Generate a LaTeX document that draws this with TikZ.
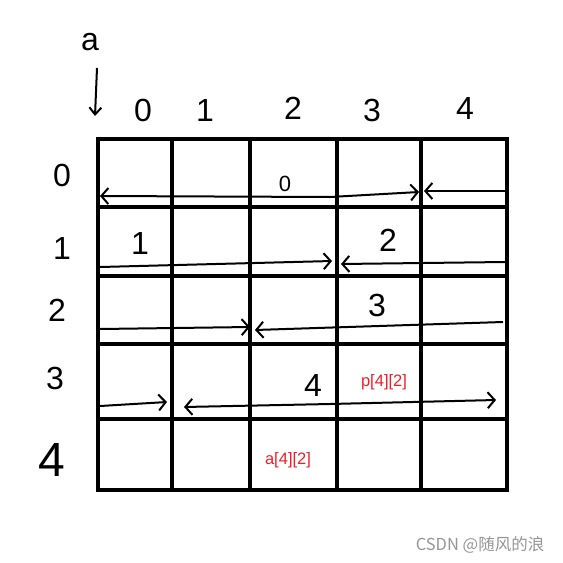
\documentclass[tikz,border=0pt]{standalone}
\usepackage{fontspec}
\setmainfont{Liberation Sans}
\newfontfamily\cjk{Noto Sans CJK SC}
\usetikzlibrary{arrows.meta}
\begin{document}
\begin{tikzpicture}[x=1pt,y=-1pt,
  gridline/.style={line width=4pt},
  hand/.style={line width=2pt,-{Straight Barb[length=7pt,width=16pt,line width=2pt]}},
  lbl/.style={font=\fontsize{32}{32}\selectfont,inner sep=0pt},
  biglbl/.style={font=\fontsize{48}{48}\selectfont,inner sep=0pt},
  redlbl/.style={font=\fontsize{16.5}{16.5}\selectfont,text={rgb,255:red,240;green,30;blue,40},inner sep=0pt},
  wm/.style={font=\cjk\fontsize{16.5}{16.5}\selectfont,text={rgb,255:red,150;green,150;blue,150},inner sep=0pt}]
\useasboundingbox (0,0) rectangle (563,563);
\fill[white] (0,0) rectangle (563,563);
% grid
\foreach \y in {139,207,276,344,419,490} \draw[gridline] (96,\y) -- (509,\y);
\foreach \x in {98,172,250,337,421,507} \draw[gridline] (\x,137) -- (\x,492);
% labels
\node[lbl] (a) at (90,42) {a};
\coordinate (atop) at (97,68);
\coordinate (abot) at (95,116);
\draw[line width=2pt,-{Straight Barb[length=7pt,width=12pt]}] (atop) -- (abot);
\node[lbl] (c0) at (143,110) {0};
\node[lbl] (c1) at (205,110) {1};
\node[lbl] (c2) at (293,108) {2};
\node[lbl] (c3) at (372,110) {3};
\node[lbl] (c4) at (465,108) {4};
\node[lbl] (r0) at (62,175) {0};
\node[lbl] (r1) at (62,248) {1};
\node[lbl] (r2) at (57,310) {2};
\node[lbl] (r3) at (55,378) {3};
\node[biglbl] (r4) at (52,460) {4};
% row 0
\coordinate (m0) at (330,197);
\coordinate (l0) at (100,196);
\coordinate (h0) at (419,192);
\coordinate (e0) at (505,191);
\coordinate (k0) at (424,191);
\draw[hand] (m0) -- (l0);
\draw[hand] (m0) -- (h0);
\draw[hand] (e0) -- (k0);
\node[lbl,font=\fontsize{22}{22}\selectfont] (n0) at (285,184) {0};
% row 1
\coordinate (s1) at (100,267);
\coordinate (h1) at (332,261);
\coordinate (e1) at (505,262);
\coordinate (k1) at (341,264);
\draw[hand] (s1) -- (h1);
\draw[hand] (e1) -- (k1);
\node[lbl] (n1) at (140,243) {1};
\node[lbl] (n2) at (388,240) {2};
% row 2
\coordinate (s2) at (100,329);
\coordinate (h2) at (250,327);
\coordinate (e2) at (503,322);
\coordinate (k2) at (255,330);
\draw[hand] (s2) -- (h2);
\draw[hand] (e2) -- (k2);
\node[lbl] (n3) at (377,305) {3};
% row 3
\coordinate (s3) at (100,406);
\coordinate (h3) at (167,402);
\coordinate (m3) at (330,404);
\coordinate (k3) at (184,407);
\coordinate (h4) at (496,400);
\draw[hand] (s3) -- (h3);
\draw[hand] (m3) -- (k3);
\draw[hand] (m3) -- (h4);
\node[lbl] (n4) at (313,385) {4};
\node[redlbl] (p) at (384,382) {p[4][2]};
\node[redlbl] (aa) at (288,460) {a[4][2]};
\node[wm] (w) at (480,545) {CSDN @随风的浪};
\end{tikzpicture}
\end{document}
